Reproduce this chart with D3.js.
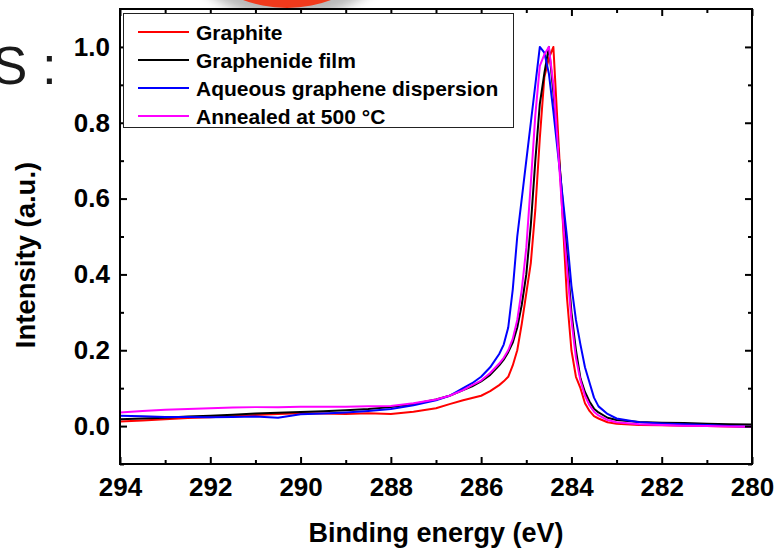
<!DOCTYPE html>
<html>
<head>
<meta charset="utf-8">
<script src="https://cdn.jsdelivr.net/npm/d3@7"></script>
<style>
  body { margin: 0; background: #fff; }
  svg { display: block; font-family: "Liberation Sans", Arial, sans-serif; }
</style>
</head>
<body>
<script>
// binding energy grid (eV)
const energy = [294, 293.5, 293, 292.5, 292, 291.5, 291, 290.5, 290, 289.5, 289, 288.5, 288, 287.5, 287,
  286.7, 286.4, 286.2, 286.0, 285.8, 285.6, 285.5, 285.4, 285.3, 285.2, 285.1, 285.0, 284.9, 284.8, 284.7,
  284.6, 284.5, 284.4, 284.3, 284.2, 284.1, 284.0, 283.9, 283.8, 283.7, 283.6, 283.5, 283.4, 283.2, 283.0,
  282.5, 282.0, 281.5, 281.0, 280.5, 280.0];

const graphite = [0.012, 0.015, 0.018, 0.021, 0.023, 0.026, 0.029, 0.032, 0.034, 0.033, 0.032, 0.034, 0.032, 0.038, 0.047,
  0.058, 0.068, 0.074, 0.080, 0.092, 0.108, 0.118, 0.130, 0.160, 0.200, 0.270, 0.350, 0.430, 0.570, 0.760,
  0.920, 0.970, 1.000, 0.780, 0.560, 0.340, 0.200, 0.130, 0.100, 0.060, 0.040, 0.026, 0.020, 0.010, 0.006,
  0.003, 0.002, 0.001, 0.000, -0.001, -0.002];

const graphenideFilm = [0.018, 0.020, 0.022, 0.025, 0.027, 0.030, 0.033, 0.035, 0.037, 0.039, 0.042, 0.045, 0.050, 0.058, 0.070,
  0.080, 0.095, 0.105, 0.118, 0.135, 0.160, 0.175, 0.195, 0.220, 0.260, 0.320, 0.400, 0.530, 0.700, 0.850,
  0.930, 1.000, 0.880, 0.740, 0.600, 0.450, 0.300, 0.200, 0.126, 0.090, 0.065, 0.046, 0.036, 0.022, 0.016,
  0.011, 0.009, 0.008, 0.006, 0.005, 0.004];

const aqueousDispersion = [0.027, 0.026, 0.024, 0.024, 0.023, 0.024, 0.025, 0.022, 0.031, 0.033, 0.036, 0.040, 0.045, 0.055, 0.068,
  0.080, 0.100, 0.113, 0.130, 0.155, 0.190, 0.215, 0.260, 0.360, 0.500, 0.600, 0.700, 0.800, 0.900, 1.000,
  0.985, 0.930, 0.830, 0.720, 0.610, 0.500, 0.370, 0.280, 0.215, 0.155, 0.115, 0.075, 0.052, 0.032, 0.020,
  0.010, 0.007, 0.005, 0.003, 0.000, -0.002];

const annealed500 = [0.036, 0.040, 0.043, 0.045, 0.047, 0.049, 0.050, 0.050, 0.051, 0.051, 0.051, 0.052, 0.053, 0.060, 0.070,
  0.080, 0.095, 0.108, 0.120, 0.140, 0.165, 0.180, 0.200, 0.230, 0.280, 0.360, 0.470, 0.640, 0.820, 0.950,
  0.980, 1.000, 0.900, 0.740, 0.560, 0.420, 0.280, 0.180, 0.120, 0.080, 0.055, 0.038, 0.028, 0.016, 0.010,
  0.005, 0.003, 0.001, 0.000, -0.001, -0.002];

const seriesNames = ["Graphite", "Graphenide film", "Aqueous graphene dispersion", "Annealed at 500 °C"];
const seriesValues = [graphite, graphenideFilm, aqueousDispersion, annealed500];
const seriesColors = ["#ff0000", "#000000", "#0000ff", "#ff00ff"];

const xTicks = [294, 292, 290, 288, 286, 284, 282, 280];
const xMinorTicks = [293, 291, 289, 287, 285, 283, 281];
const yTicks = [0.0, 0.2, 0.4, 0.6, 0.8, 1.0];
const yMinorTicks = [-0.1, 0.1, 0.3, 0.5, 0.7, 0.9];

const W = 777, H = 551;
const plotL = 120, plotR = 752, plotT = 9, plotB = 464;

const svg = d3.select("body").append("svg")
  .attr("width", W)
  .attr("height", H);

// slide leftovers: red disc cut at the top and big "S :"
const defs = svg.append("defs");
defs.append("filter").attr("id", "blur").attr("x", "-50%").attr("y", "-50%").attr("width", "200%").attr("height", "200%")
  .append("feGaussianBlur").attr("stdDeviation", 6);
defs.append("clipPath").attr("id", "plotclip")
  .append("rect").attr("x", plotL).attr("y", plotT).attr("width", plotR - plotL).attr("height", plotB - plotT);

svg.append("circle").attr("cx", 288).attr("cy", -112).attr("r", 132)
  .attr("fill", "#9a9a9a").attr("opacity", 0.7).attr("filter", "url(#blur)");
svg.append("circle").attr("cx", 287).attr("cy", -117).attr("r", 125)
  .attr("fill", "#f03a1c");

svg.append("text")
  .attr("x", -8).attr("y", 84)
  .attr("font-size", 53)
  .attr("fill", "#1a1a1a")
  .text("S :");

const x = d3.scaleLinear().domain([294, 280]).range([plotL, plotR]);
const y = d3.scaleLinear().domain([-0.1, 1.1]).range([plotB, plotT]);

// white plot background so the disc shadow does not bleed in
svg.append("rect").attr("x", plotL).attr("y", plotT).attr("width", plotR - plotL).attr("height", plotB - plotT)
  .attr("fill", "#fff");

// curves
const line = d3.line()
  .x((d, i) => x(energy[i]))
  .y(d => y(d));

svg.append("g").attr("clip-path", "url(#plotclip)")
  .selectAll("path")
  .data(seriesValues)
  .join("path")
  .attr("d", d => line(d))
  .attr("fill", "none")
  .attr("stroke", (d, i) => seriesColors[i])
  .attr("stroke-width", 2)
  .attr("stroke-linejoin", "round");

// axes, ticks inside on all four sides
function styleAxis(g) {
  g.select(".domain").remove();
  g.selectAll(".tick line").attr("stroke", "#000").attr("stroke-width", 2);
  g.selectAll(".tick text")
    .attr("fill", "#000")
    .attr("font-size", 26)
    .attr("font-weight", "bold")
    .attr("font-family", "'Liberation Sans', Arial, sans-serif");
}

svg.append("g").attr("transform", `translate(0,${plotB})`)
  .call(d3.axisBottom(x).tickValues(xTicks).tickFormat(d3.format("d")).tickSize(-7).tickPadding(14))
  .call(styleAxis);
svg.append("g").attr("transform", `translate(0,${plotB})`)
  .call(d3.axisBottom(x).tickValues(xMinorTicks).tickFormat("").tickSize(-4))
  .call(styleAxis);
svg.append("g").attr("transform", `translate(0,${plotT})`)
  .call(d3.axisTop(x).tickValues(xTicks).tickFormat("").tickSize(-7))
  .call(styleAxis);
svg.append("g").attr("transform", `translate(0,${plotT})`)
  .call(d3.axisTop(x).tickValues(xMinorTicks).tickFormat("").tickSize(-4))
  .call(styleAxis);

svg.append("g").attr("transform", `translate(${plotL},0)`)
  .call(d3.axisLeft(y).tickValues(yTicks).tickFormat(d3.format(".1f")).tickSize(-7).tickPadding(10))
  .call(styleAxis);
svg.append("g").attr("transform", `translate(${plotL},0)`)
  .call(d3.axisLeft(y).tickValues(yMinorTicks).tickFormat("").tickSize(-4))
  .call(styleAxis);
svg.append("g").attr("transform", `translate(${plotR},0)`)
  .call(d3.axisRight(y).tickValues(yTicks).tickFormat("").tickSize(-7))
  .call(styleAxis);
svg.append("g").attr("transform", `translate(${plotR},0)`)
  .call(d3.axisRight(y).tickValues(yMinorTicks).tickFormat("").tickSize(-4))
  .call(styleAxis);

// frame
svg.append("rect")
  .attr("x", plotL).attr("y", plotT)
  .attr("width", plotR - plotL).attr("height", plotB - plotT)
  .attr("fill", "none")
  .attr("stroke", "#000")
  .attr("stroke-width", 2);

// axis titles
svg.append("text")
  .attr("x", (plotL + plotR) / 2).attr("y", 542)
  .attr("text-anchor", "middle")
  .attr("font-size", 27).attr("font-weight", "bold")
  .text("Binding energy (eV)");

svg.append("text")
  .attr("transform", "translate(35,255) rotate(-90)")
  .attr("text-anchor", "middle")
  .attr("font-size", 27.5).attr("font-weight", "bold")
  .text("Intensity (a.u.)");

// legend
const legend = svg.append("g");
legend.append("rect")
  .attr("x", 123.5).attr("y", 13.5)
  .attr("width", 390).attr("height", 114)
  .attr("fill", "#fff")
  .attr("stroke", "#222")
  .attr("stroke-width", 1);

const item = legend.selectAll("g.item")
  .data(seriesNames)
  .join("g")
  .attr("class", "item")
  .attr("transform", (d, i) => `translate(0,${32 + i * 28})`);

item.append("line")
  .attr("x1", 138).attr("x2", 189)
  .attr("stroke", (d, i) => seriesColors[i])
  .attr("stroke-width", 2);

item.append("text")
  .attr("x", 196).attr("dy", "0.36em")
  .attr("font-size", 21).attr("font-weight", "bold")
  .text(d => d);
</script>
</body>
</html>
